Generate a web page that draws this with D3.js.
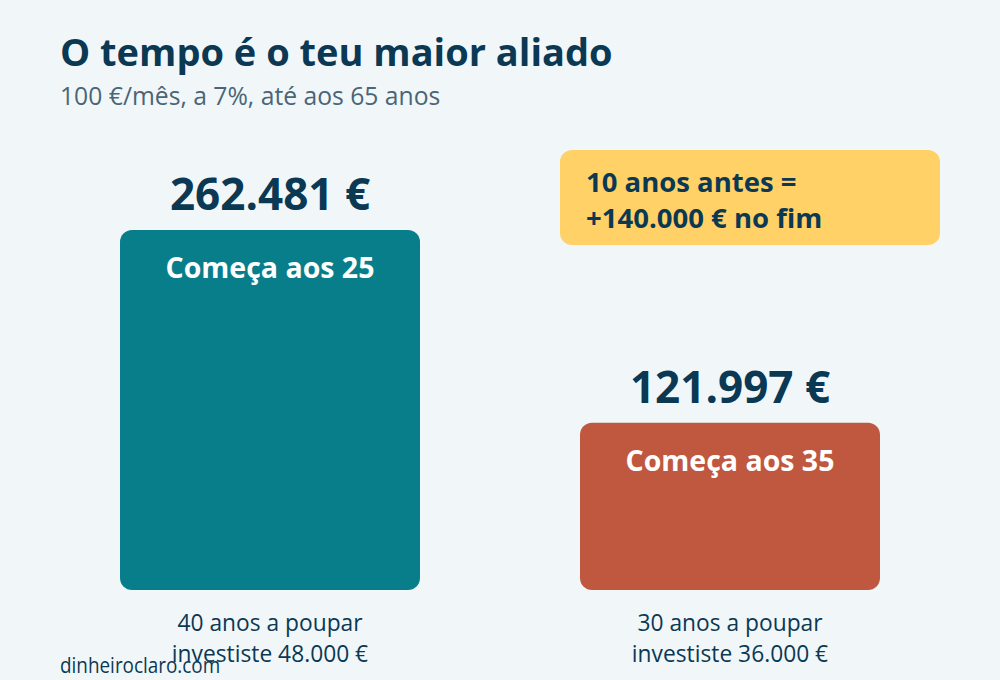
<!DOCTYPE html>
<html>
<head>
<meta charset="utf-8">
<script src="https://cdn.jsdelivr.net/npm/d3@7"></script>
<style>
  html, body { margin: 0; padding: 0; background: #f1f7f9; }
  svg text { font-family: "Open Sans", "Noto Sans", sans-serif; }
</style>
</head>
<body>
<svg id="chart"></svg>
<script>
// Data
const startLabels = ["Começa aos 25", "Começa aos 35"];
const finalValues = [262481, 121997];
const valueLabels = ["262.481 €", "121.997 €"];
const yearsLabels = ["40 anos a poupar", "30 anos a poupar"];
const investedLabels = ["investiste 48.000 €", "investiste 36.000 €"];
const barColors = ["#087e8b", "#c0573f"];
const calloutLines = ["10 anos antes =", "+140.000 € no fim"];

const width = 1000, height = 680;
const navy = "#0b3954";

const svg = d3.select("#chart")
    .attr("width", width)
    .attr("height", height);

svg.append("rect").attr("width", width).attr("height", height).attr("fill", "#f1f7f9");

// Title
svg.append("text")
    .attr("x", 60).attr("y", 66)
    .attr("fill", navy)
    .style("font-size", "38px").style("font-weight", "700")
    .text("O tempo é o teu maior aliado");

svg.append("text")
    .attr("x", 60).attr("y", 105)
    .attr("fill", "#4a6577")
    .style("font-size", "24.7px")
    .text("100 €/mês, a 7%, até aos 65 anos");

// Scales
const x = d3.scaleBand().domain(startLabels).range([120, 880]).paddingInner(160 / 460).paddingOuter(0);
const y = d3.scaleLinear().domain([0, d3.max(finalValues)]).range([590, 230]);

const data = startLabels.map((s, i) => ({
    label: s, value: finalValues[i], valueLabel: valueLabels[i],
    years: yearsLabels[i], invested: investedLabels[i], color: barColors[i]
}));

const cx = d => x(d.label) + x.bandwidth() / 2;

const groups = svg.selectAll("g.bar")
    .data(data)
    .enter()
    .append("g")
    .attr("class", "bar");

groups.append("rect")
    .attr("x", d => x(d.label))
    .attr("y", d => y(d.value))
    .attr("width", x.bandwidth())
    .attr("height", d => y(0) - y(d.value))
    .attr("rx", 12)
    .attr("fill", d => d.color);

groups.append("text")
    .attr("x", cx)
    .attr("y", d => y(d.value) - 20)
    .attr("text-anchor", "middle")
    .attr("fill", navy)
    .style("font-size", "44px").style("font-weight", "700")
    .text(d => d.valueLabel);

groups.append("text")
    .attr("x", cx)
    .attr("y", d => y(d.value) + 48)
    .attr("text-anchor", "middle")
    .attr("fill", "#ffffff")
    .style("font-size", "28.5px").style("font-weight", "700")
    .text(d => d.label);

// narrow bottom labels
groups.append("text")
    .attr("transform", d => `translate(${cx(d)}, 631) scale(0.93, 1)`)
    .attr("text-anchor", "middle")
    .attr("fill", navy)
    .style("font-size", "24.5px").style("font-weight", "500")
    .text(d => d.years);

groups.append("text")
    .attr("transform", d => `translate(${cx(d)}, 662) scale(0.93, 1)`)
    .attr("text-anchor", "middle")
    .attr("fill", navy)
    .style("font-size", "24.5px").style("font-weight", "500")
    .text(d => d.invested);

// Callout
const callout = svg.append("g");
callout.append("rect")
    .attr("x", 560).attr("y", 150)
    .attr("width", 380).attr("height", 95)
    .attr("rx", 12)
    .attr("fill", "#ffd166");

callout.selectAll("text")
    .data(calloutLines)
    .enter()
    .append("text")
    .attr("x", 586)
    .attr("y", (d, i) => 192 + i * 36)
    .attr("fill", navy)
    .style("font-size", "27.5px").style("font-weight", "700")
    .text(d => d);

// Footer (overlaps the left bottom label, as in the reference)
svg.append("text")
    .attr("transform", "translate(60, 673) scale(0.9, 1)")
    .attr("fill", navy)
    .style("font-size", "21px")
    .text("dinheiroclaro.com");
</script>
</body>
</html>
